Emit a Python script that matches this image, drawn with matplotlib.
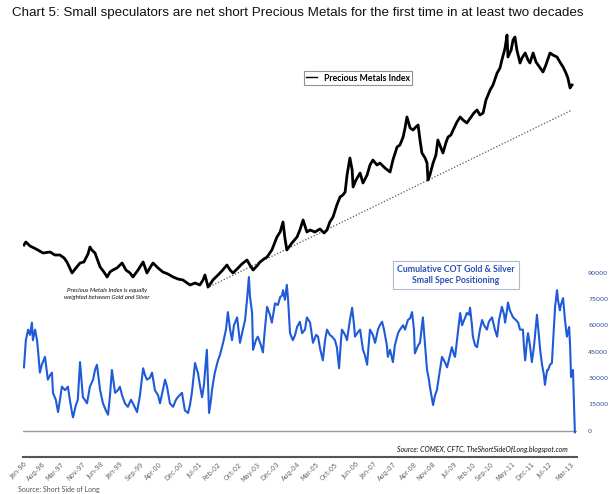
import matplotlib
matplotlib.use("Agg")
import matplotlib.pyplot as plt
from matplotlib.lines import Line2D

# ---------------- data ----------------
tick_labels = ["Jan-96", "Aug-96", "Mar-97", "Nov-97", "Jun-98", "Jan-99", "Sep-99",
               "Apr-00", "Dec-00", "Jul-01", "Feb-02", "Oct-02", "May-03", "Dec-03",
               "Aug-04", "Mar-05", "Oct-05", "Jun-06", "Jan-07", "Aug-07", "Apr-08",
               "Nov-08", "Jul-09", "Feb-10", "Sep-10", "May-11", "Dec-11", "Jul-12",
               "Mar-13"]

# Precious Metals Index (equal weight gold & silver), arbitrary index units
pm_dates = [1996.00, 1996.06, 1996.19, 1996.38, 1996.60, 1996.82, 1996.97, 1997.13, 1997.26,
            1997.35, 1997.51, 1997.63, 1997.76, 1997.88, 1998.01, 1998.07, 1998.13, 1998.23,
            1998.39, 1998.51, 1998.61, 1998.70, 1998.79, 1998.92, 1999.08, 1999.20, 1999.33,
            1999.42, 1999.58, 1999.74, 1999.86, 1999.95, 2000.05, 2000.21, 2000.36, 2000.52,
            2000.68, 2000.83, 2000.99, 2001.12, 2001.21, 2001.37, 2001.52, 2001.62, 2001.68,
            2001.78, 2001.87, 2001.93, 2002.09, 2002.21, 2002.37, 2002.47, 2002.56, 2002.72,
            2002.84, 2003.00, 2003.09, 2003.19, 2003.31, 2003.41, 2003.53, 2003.63, 2003.78,
            2003.94, 2004.04, 2004.13, 2004.19, 2004.25, 2004.41, 2004.57, 2004.66, 2004.76,
            2004.88, 2004.98, 2005.13, 2005.29, 2005.42, 2005.51, 2005.60, 2005.70, 2005.82,
            2005.92, 2006.01, 2006.08, 2006.14, 2006.23, 2006.30, 2006.33, 2006.42, 2006.55,
            2006.64, 2006.77, 2006.86, 2006.95, 2007.08, 2007.17, 2007.33, 2007.49, 2007.58,
            2007.71, 2007.80, 2007.90, 2007.96, 2008.02, 2008.12, 2008.21, 2008.30, 2008.37,
            2008.43, 2008.49, 2008.59, 2008.65, 2008.68, 2008.74, 2008.84, 2008.93, 2008.99,
            2009.09, 2009.15, 2009.25, 2009.31, 2009.40, 2009.47, 2009.59, 2009.69, 2009.78,
            2009.90, 2010.03, 2010.12, 2010.22, 2010.31, 2010.41, 2010.50, 2010.63, 2010.72,
            2010.85, 2010.94, 2011.00, 2011.10, 2011.16, 2011.19, 2011.29, 2011.35, 2011.41,
            2011.47, 2011.57, 2011.63, 2011.73, 2011.82, 2011.88, 2011.98, 2012.07, 2012.20,
            2012.29, 2012.38, 2012.51, 2012.60, 2012.73, 2012.82, 2012.92, 2013.01, 2013.07,
            2013.14, 2013.20]
pm_index = [106, 107.5, 105.5, 104, 102, 102.5, 101, 101, 99.5,
            97.5, 92, 94.5, 97, 97.5, 101.5, 105, 103.5, 102,
            95, 92.5, 90, 92.5, 93.5, 94.5, 97, 93.5, 92,
            90, 93.5, 97.5, 92, 94.5, 97, 94.5, 92.5, 91.5,
            90, 89, 88.5, 87, 86, 87, 86, 88.5, 91,
            85, 87, 88.5, 91, 93, 96, 93.5, 92, 94.5,
            96.5, 98.5, 96, 93.5, 95.5, 97.5, 99, 100, 103.5,
            110, 112.5, 117.5, 109.5, 103.5, 107, 110, 113.5, 118.5,
            112.5, 113.5, 112.5, 114, 112, 113.5, 117.5, 120, 126,
            130, 131, 132.5, 141, 149.5, 143.5, 135, 138.5, 142,
            137, 141, 146, 148.5, 146, 147, 144.5, 142.5, 148.5,
            155, 156, 160, 164.5, 170, 164.5, 163.5, 165, 166,
            158.5, 152, 149.5, 147, 138.5, 141, 147, 151, 158.5,
            154.5, 152, 157.5, 160, 161, 163.5, 167.5, 170, 168.5,
            167, 170, 172, 173.5, 171, 172, 178.5, 183.5, 186,
            192, 194.5, 198.5, 204.5, 211, 200, 203.5, 208.5, 210,
            203.5, 197, 199.5, 202, 198.5, 197, 202, 197.5, 194.5,
            192.5, 196, 202, 201, 200, 197.5, 195, 192, 189.5,
            184.5, 186]

# Dotted support trend line (index units)
trend_dates = [2001.74, 2013.20]
trend_vals = [84.5, 173.5]

# Cumulative COT gold & silver small spec net positioning (contracts)
cot_dates = [1996.00, 1996.06, 1996.13, 1996.19, 1996.25, 1996.28, 1996.35, 1996.41, 1996.44,
             1996.50, 1996.56, 1996.66, 1996.75, 1996.82, 1996.88, 1996.91, 1997.00, 1997.07,
             1997.13, 1997.19, 1997.29, 1997.38, 1997.44, 1997.51, 1997.54, 1997.63, 1997.69,
             1997.76, 1997.82, 1997.85, 1997.91, 1997.98, 1998.07, 1998.17, 1998.23, 1998.29,
             1998.39, 1998.48, 1998.57, 1998.64, 1998.70, 1998.76, 1998.86, 1998.95, 1999.01,
             1999.08, 1999.17, 1999.26, 1999.36, 1999.42, 1999.55, 1999.64, 1999.74, 1999.80,
             1999.86, 1999.95, 2000.02, 2000.11, 2000.21, 2000.27, 2000.36, 2000.43, 2000.49,
             2000.58, 2000.68, 2000.77, 2000.83, 2000.96, 2001.05, 2001.15, 2001.21, 2001.27,
             2001.37, 2001.43, 2001.46, 2001.52, 2001.59, 2001.65, 2001.68, 2001.74, 2001.81,
             2001.87, 2001.90, 2001.99, 2002.09, 2002.15, 2002.25, 2002.34, 2002.40, 2002.47,
             2002.53, 2002.59, 2002.69, 2002.75, 2002.78, 2002.87, 2002.94, 2003.00, 2003.06,
             2003.09, 2003.16, 2003.19, 2003.28, 2003.34, 2003.44, 2003.50, 2003.56, 2003.63,
             2003.72, 2003.78, 2003.88, 2003.97, 2004.04, 2004.10, 2004.13, 2004.19, 2004.25,
             2004.29, 2004.35, 2004.44, 2004.51, 2004.57, 2004.66, 2004.73, 2004.82, 2004.88,
             2004.98, 2005.07, 2005.17, 2005.23, 2005.29, 2005.38, 2005.45, 2005.51, 2005.60,
             2005.67, 2005.76, 2005.82, 2005.89, 2005.95, 2005.98, 2006.08, 2006.14, 2006.23,
             2006.30, 2006.36, 2006.39, 2006.48, 2006.55, 2006.64, 2006.70, 2006.77, 2006.83,
             2006.86, 2006.95, 2007.02, 2007.11, 2007.17, 2007.24, 2007.30, 2007.39, 2007.42,
             2007.49, 2007.58, 2007.64, 2007.74, 2007.80, 2007.90, 2007.96, 2008.05, 2008.12,
             2008.18, 2008.24, 2008.27, 2008.37, 2008.43, 2008.49, 2008.52, 2008.59, 2008.65,
             2008.71, 2008.74, 2008.81, 2008.84, 2008.90, 2008.96, 2009.03, 2009.12, 2009.21,
             2009.28, 2009.37, 2009.43, 2009.50, 2009.53, 2009.59, 2009.69, 2009.75, 2009.78,
             2009.84, 2009.90, 2009.97, 2010.00, 2010.06, 2010.09, 2010.16, 2010.22, 2010.31,
             2010.38, 2010.44, 2010.53, 2010.59, 2010.69, 2010.78, 2010.85, 2010.91, 2011.00,
             2011.07, 2011.10, 2011.16, 2011.19, 2011.25, 2011.35, 2011.44, 2011.51, 2011.57,
             2011.66, 2011.69, 2011.73, 2011.79, 2011.82, 2011.88, 2011.94, 2012.01, 2012.10,
             2012.16, 2012.20, 2012.26, 2012.32, 2012.35, 2012.42, 2012.45, 2012.51, 2012.57,
             2012.60, 2012.67, 2012.73, 2012.76, 2012.82, 2012.85, 2012.92, 2012.98, 2013.04,
             2013.11, 2013.14, 2013.17, 2013.23, 2013.26, 2013.29]
cot_net = [36000, 51500, 57500, 54500, 61500, 51500, 57500, 51500, 46000,
           33000, 37500, 42000, 29000, 31500, 33000, 21500, 17500, 10500,
           17500, 25000, 23000, 25000, 17500, 10000, 7500, 14500, 17500,
           39000, 26000, 19000, 17500, 15500, 25000, 29000, 34500, 37500,
           23000, 15500, 11500, 9000, 20000, 34500, 21500, 23000, 25000,
           20000, 15500, 13500, 17500, 15500, 10500, 20000, 35500, 31500,
           29000, 30000, 33000, 23000, 20000, 15500, 23000, 29000, 25000,
           15500, 13500, 17500, 19000, 21500, 11500, 10000, 14500, 21500,
           38500, 34500, 33000, 26000, 19000, 26000, 33000, 46000, 10000,
           17500, 23000, 33000, 40000, 43000, 50000, 57500, 67500, 57500,
           51500, 60000, 64500, 54500, 50000, 57500, 63000, 74500, 87500,
           77000, 67000, 46000, 51500, 53500, 48500, 44500, 57500, 70500,
           66000, 61500, 72500, 71500, 76000, 77000, 80000, 74500, 83000,
           74500, 55500, 51500, 54500, 59000, 62000, 55500, 57500, 64500,
           61500, 50000, 54500, 53500, 47000, 40000, 51500, 57500, 54500,
           53500, 51500, 47500, 35500, 51500, 57500, 54500, 51500, 63000,
           70000, 60000, 53500, 56000, 57500, 46000, 43000, 37500, 51500,
           57500, 54500, 50000, 57500, 60000, 62000, 57500, 48500, 42000,
           46000, 39000, 48500, 55500, 57500, 60000, 57500, 63000, 64000,
           67500, 57500, 44000, 48500, 50000, 60000, 64500, 48500, 34500,
           29000, 25000, 17500, 14500, 20000, 23000, 31500, 42000, 39000,
           36000, 43000, 47500, 43000, 42000, 51500, 67000, 60000, 61500,
           64000, 67000, 66000, 70000, 60000, 53500, 48500, 47500, 57500,
           63000, 60000, 57500, 62000, 64500, 57500, 53500, 63000, 70500,
           66000, 61500, 68500, 73000, 68500, 64500, 63000, 61500, 57500,
           57500, 48500, 40000, 51500, 55500, 48500, 39000, 48500, 66000,
           54500, 46000, 37500, 31500, 26000, 34500, 34500, 37500, 38500,
           48500, 70500, 80000, 74500, 68500, 71500, 75500, 63000, 53500,
           59000, 48500, 30500, 34500, 17500, -1000]

right_ticks = [0, 15000, 30000, 45000, 60000, 75000, 90000]


def label_to_year(lbl):
    months = ["Jan", "Feb", "Mar", "Apr", "May", "Jun", "Jul", "Aug", "Sep", "Oct", "Nov", "Dec"]
    m, y = lbl.split("-")
    return 2000 + int(y) - (100 if int(y) > 50 else 0) + months.index(m) / 12.0


# ---------------- figure ----------------
W, H = 616, 494
fig = plt.figure(figsize=(W / 100, H / 100), dpi=100)
fig.patch.set_facecolor("white")

ax = fig.add_axes([23 / W, 37 / H, 554 / W, 424 / H])
ax2 = ax.twinx()

BLUE = "#1f5bd8"
ax2.plot(cot_dates, cot_net, color=BLUE, lw=1.5, solid_joinstyle="round", zorder=2)
ax2.axhline(0, color="#9a9a9a", lw=1.0, zorder=1)

ax.plot(trend_dates, trend_vals, color="#555555", lw=0.9, ls=(0, (1, 1.5)), zorder=3)
ax.plot(pm_dates, pm_index, color="black", lw=2.0, solid_joinstyle="round", zorder=4)
ax.set_zorder(ax2.get_zorder() + 1)
ax.patch.set_visible(False)

ax.set_xlim(1995.97, 2013.357)
ax.set_ylim(0, 212)
ax2.set_ylim(-15100, 226600)

for a in (ax, ax2):
    for s in ("top", "left", "right"):
        a.spines[s].set_visible(False)
ax2.spines["bottom"].set_visible(False)
ax.spines["bottom"].set_color("#555555")
ax.spines["bottom"].set_linewidth(1.5)

ax.set_yticks([])
ax.set_xticks([label_to_year(l) for l in tick_labels])
ax.set_xticklabels(tick_labels, rotation=45, ha="right", rotation_mode="anchor",
                   fontsize=4.8, color="#666666", family="DejaVu Sans")
ax.tick_params(axis="x", length=0, pad=3)

ax2.set_yticks(right_ticks)
ax2.set_yticklabels([str(t) for t in right_ticks], fontsize=4.6, color="#2b4c9c")
ax2.tick_params(axis="y", length=0, pad=8)

# title
fig.text(12 / W, 1 - 13 / H,
         "Chart 5: Small speculators are net short Precious Metals for the first time in at least two decades",
         fontsize=9.6, family="Liberation Sans", color="#111111", va="center", ha="left")

# legend box
proxy = Line2D([0], [0], color="black", lw=1.0)
leg = fig.legend([proxy], ["Precious Metals Index"], loc="center",
                 bbox_to_anchor=(358 / W, 1 - 78 / H), fancybox=False, frameon=True,
                 prop={"family": "Lato", "weight": "bold", "size": 6.3},
                 handlelength=1.2, handletextpad=0.8, borderpad=0.25, borderaxespad=0)
leg.get_frame().set_edgecolor("#777777")
leg.get_frame().set_linewidth(0.8)

# blue label box
fig.text(456 / W, 1 - 275 / H, "Cumulative COT Gold & Silver\nSmall Spec Positioning",
         ha="center", va="center", fontsize=6.3, family="Lato", weight="bold",
         color="#2a4fb8", linespacing=1.25,
         bbox=dict(boxstyle="square,pad=0.45", fc="white", ec="#b0b8d0", lw=0.8))

# annotation
fig.text(107 / W, 1 - 294 / H, "Precious Metals Index is equally\nweighted between Gold and Silver",
         ha="center", va="center", fontsize=4.4, family="Lato", style="italic",
         color="#111111", linespacing=1.3)

# source
fig.text(568 / W, 1 - 449 / H, "Source: COMEX, CFTC, TheShortSideOfLong.blogspot.com",
         ha="right", va="center", fontsize=5.0, family="Lato", style="italic", color="#111111")

fig.text(18 / W, 1.5 / H, "Source: Short Side of Long", ha="left", va="bottom",
         fontsize=5.0, family="Lato", color="#555555")

fig.savefig("out.png", dpi=100, facecolor="white")
